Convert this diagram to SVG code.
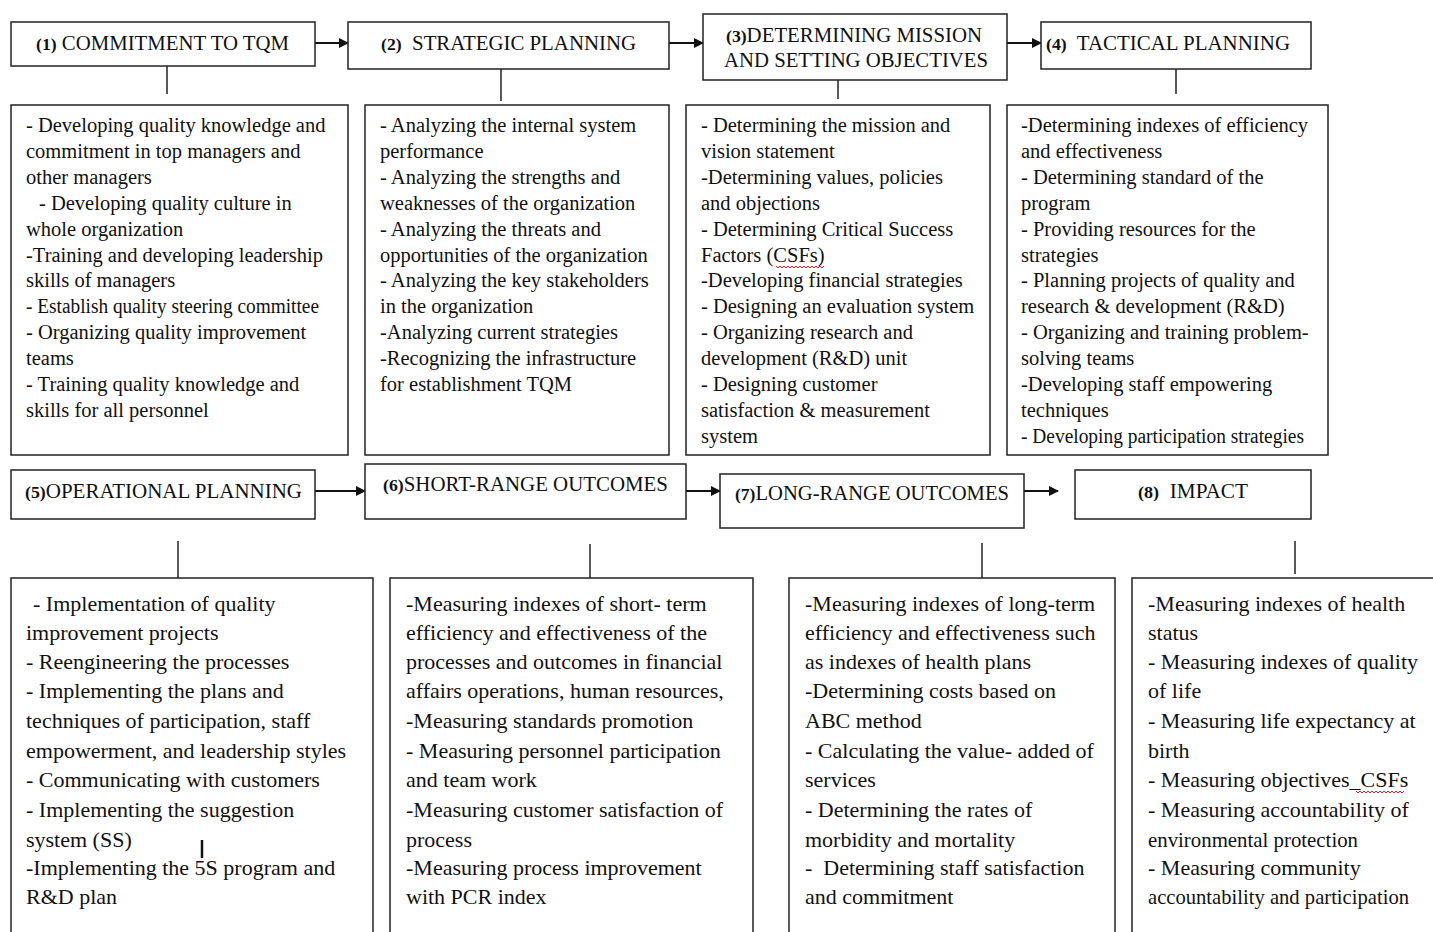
<svg xmlns="http://www.w3.org/2000/svg" width="1433" height="932" viewBox="0 0 1433 932">
<defs>
<marker id="ah" markerWidth="10" markerHeight="10" refX="9" refY="5" orient="auto" markerUnits="userSpaceOnUse">
<path d="M0,0 L10,5 L0,10 Z" fill="#111"/>
</marker>
<style>
.box{fill:#fff;stroke:#222;stroke-width:1.5}
.hd{font-family:"Liberation Serif","Times New Roman",serif;font-size:20px;fill:#111}
.hd tspan.b{font-weight:bold;font-size:17px}
.t{font-family:"Liberation Serif","Times New Roman",serif;font-size:20.5px;fill:#111}
.u{font-family:"Liberation Serif","Times New Roman",serif;font-size:22px;fill:#111}
.ln{stroke:#222;stroke-width:1.5;fill:none}
.ar{stroke:#111;stroke-width:2;fill:none;marker-end:url(#ah)}
.sq{stroke:#e02020;stroke-width:1;fill:none}
</style>
</defs>
<rect width="1433" height="932" fill="#fff"/>

<g id="connectors">
<line class="ar" x1="315" y1="43" x2="348" y2="43"/>
<line class="ar" x1="669" y1="43" x2="703" y2="43"/>
<line class="ar" x1="1007" y1="43" x2="1041" y2="43"/>
<line class="ar" x1="315" y1="491" x2="365" y2="491"/>
<line class="ar" x1="686" y1="491" x2="720" y2="491"/>
<line class="ar" x1="1024" y1="491" x2="1058" y2="491"/>
<line class="ln" x1="167" y1="66" x2="167" y2="94"/>
<line class="ln" x1="501" y1="69" x2="501" y2="101"/>
<line class="ln" x1="838" y1="80" x2="838" y2="99"/>
<line class="ln" x1="1176" y1="69" x2="1176" y2="94"/>
<line class="ln" x1="178" y1="541" x2="178" y2="578"/>
<line class="ln" x1="590" y1="544" x2="590" y2="578"/>
<line class="ln" x1="982" y1="543" x2="982" y2="578"/>
<line class="ln" x1="1295" y1="541" x2="1295" y2="574"/>
</g>

<g id="node1">
<rect class="box" x="11" y="22" width="304" height="44"/>
<text class="hd" x="36" y="50" textLength="253" lengthAdjust="spacingAndGlyphs"><tspan class="b">(1)</tspan> COMMITMENT TO TQM</text>
</g>
<g id="node2">
<rect class="box" x="348" y="22" width="321" height="47"/>
<text class="hd" x="381" y="50" textLength="255" lengthAdjust="spacingAndGlyphs"><tspan class="b">(2)</tspan>&#160; STRATEGIC PLANNING</text>
</g>
<g id="node3">
<rect class="box" x="703" y="14" width="304" height="66"/>
<text class="hd" x="726" y="42" textLength="256" lengthAdjust="spacingAndGlyphs"><tspan class="b">(3)</tspan>DETERMINING MISSION</text>
<text class="hd" x="724" y="67" textLength="264" lengthAdjust="spacingAndGlyphs">AND SETTING OBJECTIVES</text>
</g>
<g id="node4">
<rect class="box" x="1041" y="22" width="270" height="47"/>
<text class="hd" x="1046" y="50" textLength="244" lengthAdjust="spacingAndGlyphs"><tspan class="b">(4)</tspan>&#160; TACTICAL PLANNING</text>
</g>

<g id="box1">
<rect class="box" x="11" y="105" width="337" height="350"/>
<text class="t">
<tspan x="26" y="132">- Developing quality knowledge and</tspan>
<tspan x="26" y="158">commitment in top managers and</tspan>
<tspan x="26" y="184">other managers</tspan>
<tspan x="39" y="210">- Developing quality culture in</tspan>
<tspan x="26" y="236">whole organization</tspan>
<tspan x="26" y="262">-Training and developing leadership</tspan>
<tspan x="26" y="287">skills of managers</tspan>
</text>
<text class="t" x="26" y="313" textLength="293" lengthAdjust="spacingAndGlyphs">- Establish quality steering committee</text>
<text class="t">
<tspan x="26" y="339">- Organizing quality improvement</tspan>
<tspan x="26" y="365">teams</tspan>
<tspan x="26" y="391">- Training quality knowledge and</tspan>
<tspan x="26" y="417">skills for all personnel</tspan>
</text>
</g>
<g id="box2">
<rect class="box" x="365" y="105" width="304" height="350"/>
<text class="t">
<tspan x="380" y="132">- Analyzing the internal system</tspan>
<tspan x="380" y="158">performance</tspan>
<tspan x="380" y="184">- Analyzing the strengths and</tspan>
<tspan x="380" y="210">weaknesses of the organization</tspan>
<tspan x="380" y="236">- Analyzing the threats and</tspan>
<tspan x="380" y="262">opportunities of the organization</tspan>
<tspan x="380" y="287">- Analyzing the key stakeholders</tspan>
<tspan x="380" y="313">in the organization</tspan>
<tspan x="380" y="339">-Analyzing current strategies</tspan>
<tspan x="380" y="365">-Recognizing the infrastructure</tspan>
<tspan x="380" y="391">for establishment TQM</tspan>
</text>
</g>
<g id="box3">
<rect class="box" x="686" y="105" width="304" height="350"/>
<text class="t">
<tspan x="701" y="132">- Determining the mission and</tspan>
<tspan x="701" y="158">vision statement</tspan>
<tspan x="701" y="184">-Determining values, policies</tspan>
<tspan x="701" y="210">and objections</tspan>
<tspan x="701" y="236">- Determining Critical Success</tspan>
<tspan x="701" y="262">Factors (CSFs)</tspan>
<tspan x="701" y="287">-Developing financial strategies</tspan>
<tspan x="701" y="313">- Designing an evaluation system</tspan>
<tspan x="701" y="339">- Organizing research and</tspan>
<tspan x="701" y="365">development (R&amp;D) unit</tspan>
<tspan x="701" y="391">- Designing customer</tspan>
<tspan x="701" y="417">satisfaction &amp; measurement</tspan>
<tspan x="701" y="443">system</tspan>
</text>
<polyline class="sq" points="776,266 778,268 780,266 782,268 784,266 786,268 788,266 790,268 792,266 794,268 796,266 798,268 800,266 802,268 804,266 806,268 808,266 810,268 812,266 814,268 816,266 818,268 820,266 822,268 824,266"/>
</g>
<g id="box4">
<rect class="box" x="1007" y="105" width="321" height="350"/>
<text class="t">
<tspan x="1021" y="132">-Determining indexes of efficiency</tspan>
<tspan x="1021" y="158">and effectiveness</tspan>
<tspan x="1021" y="184">- Determining standard of the</tspan>
<tspan x="1021" y="210">program</tspan>
<tspan x="1021" y="236">- Providing resources for the</tspan>
<tspan x="1021" y="262">strategies</tspan>
<tspan x="1021" y="287">- Planning projects of quality and</tspan>
<tspan x="1021" y="313">research &amp; development (R&amp;D)</tspan>
<tspan x="1021" y="339">- Organizing and training problem-</tspan>
<tspan x="1021" y="365">solving teams</tspan>
<tspan x="1021" y="391">-Developing staff empowering</tspan>
<tspan x="1021" y="417">techniques</tspan>
</text>
<text class="t" x="1021" y="443" textLength="283" lengthAdjust="spacingAndGlyphs">- Developing participation strategies</text>
</g>

<g id="node5">
<rect class="box" x="11" y="470" width="304" height="49"/>
<text class="hd" x="25" y="498" textLength="277" lengthAdjust="spacingAndGlyphs"><tspan class="b">(5)</tspan>OPERATIONAL PLANNING</text>
</g>
<g id="node6">
<rect class="box" x="365" y="464" width="321" height="55"/>
<text class="hd" x="383" y="491" textLength="285" lengthAdjust="spacingAndGlyphs"><tspan class="b">(6)</tspan>SHORT-RANGE OUTCOMES</text>
</g>
<g id="node7">
<rect class="box" x="720" y="474" width="304" height="54"/>
<text class="hd" x="735" y="500" textLength="274" lengthAdjust="spacingAndGlyphs"><tspan class="b">(7)</tspan>LONG-RANGE OUTCOMES</text>
</g>
<g id="node8">
<rect class="box" x="1075" y="470" width="236" height="49"/>
<text class="hd" x="1138" y="498" textLength="110" lengthAdjust="spacingAndGlyphs"><tspan class="b">(8)</tspan>&#160; IMPACT</text>
</g>

<g id="box5">
<rect class="box" x="11" y="578" width="362" height="370"/>
<text class="u">
<tspan x="33" y="611">- Implementation of quality</tspan>
<tspan x="26" y="640">improvement projects</tspan>
<tspan x="26" y="669">- Reengineering the processes</tspan>
<tspan x="26" y="698">- Implementing the plans and</tspan>
<tspan x="26" y="728">techniques of participation, staff</tspan>
<tspan x="26" y="758">empowerment, and leadership styles</tspan>
<tspan x="26" y="787">- Communicating with customers</tspan>
<tspan x="26" y="817">- Implementing the suggestion</tspan>
<tspan x="26" y="847">system (SS)</tspan>
<tspan x="26" y="875">-Implementing the 5S program and</tspan>
<tspan x="26" y="904">R&amp;D plan</tspan>
</text>
<line x1="202" y1="840" x2="202" y2="858" stroke="#111" stroke-width="2.5"/>
</g>
<g id="box6">
<rect class="box" x="390" y="578" width="363" height="370"/>
<text class="u">
<tspan x="406" y="611">-Measuring indexes of short- term</tspan>
<tspan x="406" y="640">efficiency and effectiveness of the</tspan>
<tspan x="406" y="669">processes and outcomes in financial</tspan>
<tspan x="406" y="698">affairs operations, human resources,</tspan>
<tspan x="406" y="728">-Measuring standards promotion</tspan>
<tspan x="406" y="758">- Measuring personnel participation</tspan>
<tspan x="406" y="787">and team work</tspan>
<tspan x="406" y="817">-Measuring customer satisfaction of</tspan>
<tspan x="406" y="847">process</tspan>
<tspan x="406" y="875">-Measuring process improvement</tspan>
<tspan x="406" y="904">with PCR index</tspan>
</text>
</g>
<g id="box7">
<rect class="box" x="789" y="578" width="326" height="370"/>
<text class="u">
<tspan x="805" y="611">-Measuring indexes of long-term</tspan>
<tspan x="805" y="640">efficiency and effectiveness such</tspan>
<tspan x="805" y="669">as indexes of health plans</tspan>
<tspan x="805" y="698">-Determining costs based on</tspan>
<tspan x="805" y="728">ABC method</tspan>
<tspan x="805" y="758">- Calculating the value- added of</tspan>
<tspan x="805" y="787">services</tspan>
<tspan x="805" y="817">- Determining the rates of</tspan>
<tspan x="805" y="847">morbidity and mortality</tspan>
<tspan x="805" y="875">-&#160; Determining staff satisfaction</tspan>
<tspan x="805" y="904">and commitment</tspan>
</text>
</g>
<g id="box8">
<rect class="box" x="1132" y="578" width="320" height="370"/>
<text class="u">
<tspan x="1148" y="611">-Measuring indexes of health</tspan>
<tspan x="1148" y="640">status</tspan>
<tspan x="1148" y="669">- Measuring indexes of quality</tspan>
<tspan x="1148" y="698">of life</tspan>
<tspan x="1148" y="728">- Measuring life expectancy at</tspan>
<tspan x="1148" y="758">birth</tspan>
<tspan x="1148" y="787">- Measuring objectives_CSFs</tspan>
<tspan x="1148" y="817">- Measuring accountability of</tspan>
<tspan x="1148" y="875">- Measuring community</tspan>
</text>
<text class="u" x="1148" y="847" textLength="210" lengthAdjust="spacingAndGlyphs">environmental protection</text>
<text class="u" x="1148" y="904" textLength="261" lengthAdjust="spacingAndGlyphs">accountability and participation</text>
<polyline class="sq" points="1356,791 1358,793 1360,791 1362,793 1364,791 1366,793 1368,791 1370,793 1372,791 1374,793 1376,791 1378,793 1380,791 1382,793 1384,791 1386,793 1388,791 1390,793 1392,791 1394,793 1396,791 1398,793 1400,791 1402,793 1404,791"/>
</g>
</svg>
